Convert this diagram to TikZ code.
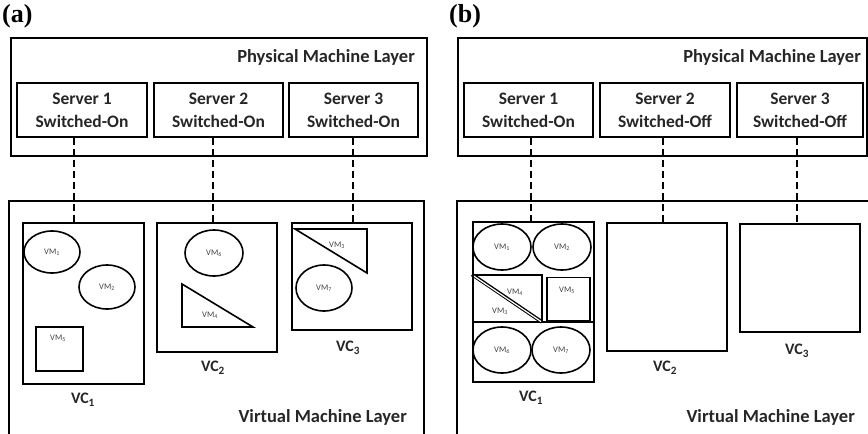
\documentclass[tikz,border=0pt]{standalone}
\usepackage{fontspec}
\setmainfont{Carlito}
\newfontfamily\capfont{Liberation Serif}
\usetikzlibrary{shapes.geometric}
\tikzset{
  x=1pt, y=-1pt,
  layer/.style={draw, line width=1.6pt, inner sep=0pt, anchor=north west},
  srv/.style={draw, line width=1.6pt, inner sep=0pt, align=center,
    font=\fontsize{17.5}{23}\selectfont\bfseries, text=black!85},
  vcbox/.style={draw, line width=1.6pt, inner sep=0pt, anchor=north west},
  vmell/.style={draw, ellipse, line width=1.6pt, inner sep=0pt,
    font=\fontsize{8.5}{9}\selectfont, text=black!75},
  vmbox/.style={draw, line width=1.6pt, inner sep=0pt, anchor=north west},
  vmtxt/.style={font=\fontsize{8.5}{9}\selectfont, text=black!75, inner sep=0pt},
  vctxt/.style={font=\fontsize{16}{17}\selectfont\bfseries, text=black!85, inner sep=0pt},
  laytxt/.style={font=\fontsize{18.5}{19}\selectfont\bfseries, text=black!85, inner sep=0pt, anchor=east},
  captxt/.style={font=\fontsize{26}{27}\capfont\bfseries, inner sep=0pt, anchor=west},
  link/.style={line width=1.6pt, dash pattern=on 7pt off 4pt},
  tri/.style={line width=1.6pt, line join=miter},
}
\begin{document}
\begin{tikzpicture}
\useasboundingbox (0,0) rectangle (868,434);
\clip (0,0) rectangle (868,434);

% ---------------- panel (a) ----------------
\node[captxt] (capa) at (2,16) {(a)};
\node[layer, minimum width=416, minimum height=118] (pa) at (10,37) {};
\node[laytxt] (pal) at (415,57) {Physical Machine Layer};
\node[srv, minimum width=130, minimum height=54] (a1) at (82,110) {Server 1\\Switched-On};
\node[srv, minimum width=129, minimum height=54] (a2) at (218.5,110) {Server 2\\Switched-On};
\node[srv, minimum width=129, minimum height=54] (a3) at (353.5,110) {Server 3\\Switched-On};

\node[layer, minimum width=415, minimum height=240] (va) at (8,200) {};
\node[laytxt] (val) at (407,417) {Virtual Machine Layer};

% VC1
\node[vcbox, minimum width=121, minimum height=161] (avc1) at (22,222) {};
\node[vctxt] (avc1l) at (83,400) {VC\textsubscript{1}};
\node[vmell, minimum width=56, minimum height=42] (avm1) at (52,252) {VM\textsubscript{1}};
\node[vmell, minimum width=56, minimum height=44] (avm2) at (107,287) {VM\textsubscript{2}};
\node[vmbox, minimum width=47, minimum height=44] (avm5) at (35,326) {};
\node[vmtxt] (avm5l) at (58,338) {VM\textsubscript{5}};

% VC2
\node[vcbox, minimum width=120, minimum height=129] (avc2) at (156,222) {};
\node[vctxt] (avc2l) at (213,368) {VC\textsubscript{2}};
\node[vmell, minimum width=58, minimum height=46] (avm6) at (214,253) {VM\textsubscript{6}};
\draw[tri] (182,284) -- (182,327) -- (253,327) -- cycle;
\node[vmtxt] (avm4l) at (210,315) {VM\textsubscript{4}};

% VC3
\node[vcbox, minimum width=120, minimum height=107] (avc3) at (291,222) {};
\node[vctxt] (avc3l) at (348,348) {VC\textsubscript{3}};
\draw[tri] (295,229) -- (367,229) -- (367,273) -- cycle;
\node[vmtxt] (avm3l) at (337,245) {VM\textsubscript{3}};
\node[vmell, minimum width=56, minimum height=46] (avm7) at (324,288) {VM\textsubscript{7}};

% server-to-cluster links
\coordinate (ta1) at (74,222);
\coordinate (ta2) at (213,222);
\coordinate (ta3) at (353,222);
\draw[link] (ta1 |- a1.south) -- (ta1);
\draw[link] (ta2 |- a2.south) -- (ta2);
\draw[link] (ta3 |- a3.south) -- (ta3);

% ---------------- panel (b) ----------------
\node[captxt] (capb) at (449,16) {(b)};
\node[layer, minimum width=409, minimum height=118] (pb) at (457,37) {};
\node[laytxt] (pbl) at (861,57) {Physical Machine Layer};
\node[srv, minimum width=129, minimum height=54] (b1) at (528.5,110) {Server 1\\Switched-On};
\node[srv, minimum width=130, minimum height=54] (b2) at (665,110) {Server 2\\Switched-Off};
\node[srv, minimum width=126, minimum height=54] (b3) at (800,110) {Server 3\\Switched-Off};

\node[layer, minimum width=420, minimum height=245] (vb) at (456,200) {};
\node[laytxt] (vbl) at (855,417) {Virtual Machine Layer};

% VC1 (all VMs consolidated)
\node[vcbox, minimum width=121, minimum height=160] (bvc1) at (472,221) {};
\node[vctxt] (bvc1l) at (531,398) {VC\textsubscript{1}};
\node[vmell, minimum width=58, minimum height=46] (bvm1) at (502,247) {VM\textsubscript{1}};
\node[vmell, minimum width=58, minimum height=46] (bvm2) at (562,247) {VM\textsubscript{2}};
\draw[tri] (472,275) -- (542,275) -- (542,322);
\draw[line width=1.6pt] (472,322) -- (593,322);
\draw[line width=3.6pt] (472,274.5) -- (542,322);
\draw[line width=1.2pt, white] (473,275.5) -- (541,321.5);
\draw[line width=2.6pt] (473,275) -- (473,322);
\node[vmtxt] (bvm4l) at (515,292) {VM\textsubscript{4}};
\node[vmtxt] (bvm3l) at (500,311) {VM\textsubscript{3}};
\node[vmbox, minimum width=43, minimum height=43] (bvm5) at (546,276.5) {};
\node[vmtxt] (bvm5l) at (567,290) {VM\textsubscript{5}};
\node[vmell, minimum width=58, minimum height=46] (bvm6) at (502,350) {VM\textsubscript{6}};
\node[vmell, minimum width=58, minimum height=46] (bvm7) at (561,350) {VM\textsubscript{7}};

% VC2, VC3 (empty)
\node[vcbox, minimum width=120, minimum height=128] (bvc2) at (606,222) {};
\node[vctxt] (bvc2l) at (665,368) {VC\textsubscript{2}};
\node[vcbox, minimum width=120, minimum height=108] (bvc3) at (739,223) {};
\node[vctxt] (bvc3l) at (797,351) {VC\textsubscript{3}};

% server-to-cluster links
\coordinate (tb1) at (531,221);
\coordinate (tb2) at (663,222);
\coordinate (tb3) at (797,223);
\draw[link] (tb1 |- b1.south) -- (tb1);
\draw[link] (tb2 |- b2.south) -- (tb2);
\draw[link] (tb3 |- b3.south) -- (tb3);
\end{tikzpicture}
\end{document}
